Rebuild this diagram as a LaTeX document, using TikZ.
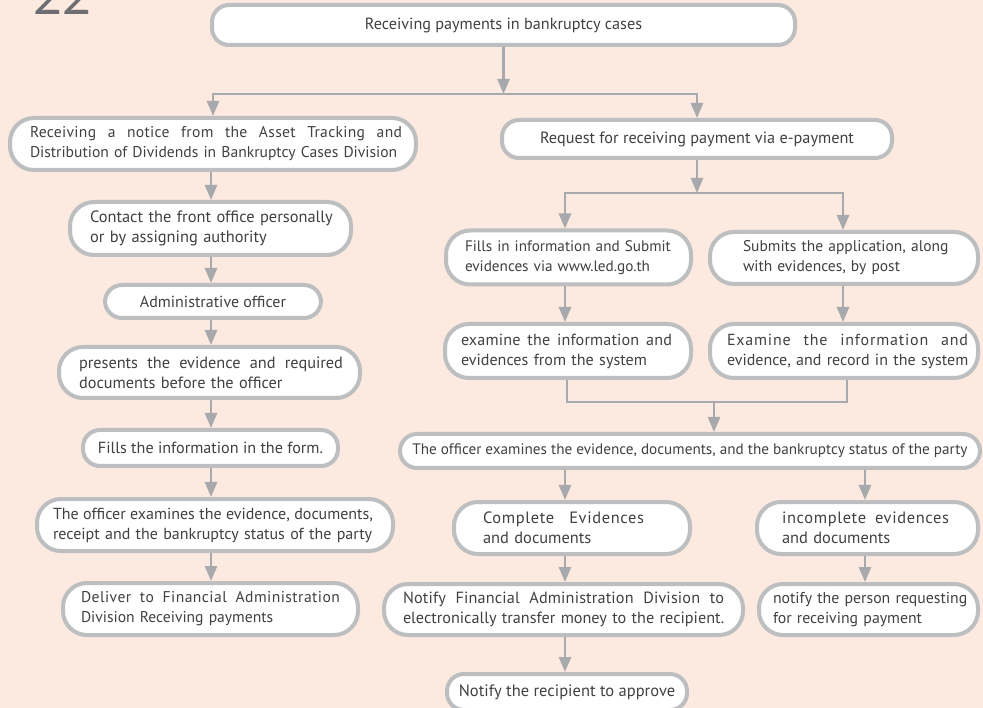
\documentclass[tikz,border=0pt]{standalone}
\usepackage{fontspec}
\setmainfont{PT Sans}
\newfontfamily\pgfont{Lato}
\usetikzlibrary{arrows.meta}
\definecolor{bgc}{HTML}{FCE9E0}
\definecolor{bordc}{HTML}{BCBEC0}
\definecolor{arrc}{HTML}{A7A9AC}
\definecolor{txtc}{HTML}{414042}
\definecolor{numc}{HTML}{6D6E71}
\newcommand\sline[3][0]{\makebox[#2pt][s]{\spaceskip=0pt\xspaceskip=0pt\addfontfeature{LetterSpace=#1}#3}}
\begin{document}
\begin{tikzpicture}[x=1pt,y=-1pt,
  fs/.style={font=\fontsize{#1}{20}\selectfont},
  box/.style={draw=bordc, line width=4pt, fill=white, inner sep=0pt,
    text=txtc, fs=16, rounded corners=24pt},
  pill/.style={box, rounded corners=17pt},
  para/.style={align=left, text width=#1pt},
  arr/.style={draw=arrc, line width=2.6pt, -{Triangle[length=15pt,width=12pt]}},
  ln/.style={draw=arrc, line width=2.2pt}]
\useasboundingbox (0,0) rectangle (983,708);
\fill[bgc] (0,0) rectangle (983,708);
\node[anchor=base west, font=\pgfont\fontsize{50}{50}\selectfont, text=numc] (pg) at (30,15) {22};
% top
\node[pill, fs=16.2, minimum width=583pt, minimum height=40pt] (top) at (503.5,25) {Receiving payments in bankruptcy cases};
% left column
\node[box, fs=15.6, minimum width=406pt, minimum height=52pt, para=366] (L1) at (213,144)
  {\sline[2]{372}{Receiving a notice from the Asset Tracking and}\\\mbox{Distribution of Dividends in Bankruptcy Cases Division}};
\node[box, fs=16.4, minimum width=281pt, minimum height=53pt, para=241] (L2) at (210.5,228.5)
  {\mbox{Contact the front office personally}\\\mbox{or by assigning authority}};
\node[pill, minimum width=216pt, minimum height=33pt] (L3) at (213,301.5) {Administrative officer};
\node[box, fs=16.3, minimum width=301pt, minimum height=51pt, para=261] (L4) at (209.5,372.5)
  {\sline{264}{presents the evidence and required}\\\mbox{documents before the officer}};
\node[pill, fs=16.15, minimum width=255pt, minimum height=36pt] (L5) at (210.5,448) {Fills the information in the form.};
\node[box, minimum width=356pt, minimum height=52pt, para=324] (L6) at (215,525)
  {\sline{320}{The officer examines the evidence, documents,}\\\mbox{receipt and the bankruptcy status of the party}};
\node[box, fs=15.6, minimum width=295pt, minimum height=52pt, para=259] (L7) at (210.5,609)
  {\sline[3]{259}{Deliver to Financial Administration}\\\mbox{Division Receiving payments}};
% right column
\node[pill, fs=16.25, minimum width=390pt, minimum height=38pt] (R1) at (697,139) {Request for receiving payment via e-payment};
\node[box, fs=15.2, minimum width=245pt, minimum height=54pt, para=207] (R2a) at (568.5,257.5)
  {\mbox{Fills in information and Submit}\\\mbox{evidences via www.led.go.th}};
\node[box, fs=15.5, minimum width=268pt, minimum height=52pt, para=202] (R2b) at (844,258)
  {\mbox{Submits the application, along}\\\mbox{with evidences, by post}};
\node[box, fs=16.1, minimum width=246pt, minimum height=54pt, para=214] (R3a) at (568,351)
  {\sline[1]{211}{examine the information and}\\\mbox{evidences from the system}};
\node[box, minimum width=268pt, minimum height=54pt, para=234] (R3b) at (844,351)
  {\sline[5]{241}{Examine the information and}\\\mbox{evidence, and record in the system}};
\node[pill, fs=15.2, minimum width=580pt, minimum height=34pt] (R4) at (690,451)
  {The officer examines the evidence, documents, and the bankruptcy status of the party};
\node[box, fs=16.4, minimum width=236pt, minimum height=52pt, para=178] (R5a) at (572,528)
  {\sline[4]{161}{Complete Evidences}\\\mbox{and documents}};
\node[box, fs=16.4, minimum width=221pt, minimum height=52pt, para=171] (R5b) at (867.5,528)
  {\sline[4]{167}{incomplete evidences}\\\mbox{and documents}};
\node[box, fs=16.2, minimum width=359pt, minimum height=51pt, para=321] (R6a) at (563.5,609.5)
  {\sline[1]{321}{Notify Financial Administration Division to}\\\mbox{electronically transfer money to the recipient.}};
\node[box, fs=15.8, minimum width=219pt, minimum height=51pt, para=191] (R6b) at (868.5,609.5)
  {\mbox{notify the person requesting}\\\mbox{for receiving payment}};
\node[pill, fs=16.5, minimum width=240pt, minimum height=36pt] (R7) at (567,692) {Notify the recipient to approve};
% helper coordinates
\coordinate (s1) at (503.5,94);
\coordinate (s2) at (697,193);
\coordinate (m) at (714,402);
\coordinate (lc) at (211,0);
\coordinate (ca) at (565,0);
\coordinate (cb) at (843,0);
\coordinate (c567) at (567,0);
\coordinate (c847) at (847,0);
\coordinate (c865) at (865,0);
% connectors
\draw[arr] (top.south -| s1) -- (s1);
\draw[arr] (s1) -| (L1.north);
\draw[arr] (s1) -| (R1.north);
\draw[arr] (L1.south -| lc) -- (L2.north -| lc);
\draw[arr] (L2.south -| lc) -- (L3.north -| lc);
\draw[arr] (L3.south -| lc) -- (L4.north -| lc);
\draw[arr] (L4.south -| lc) -- (L5.north -| lc);
\draw[arr] (L5.south -| lc) -- (L6.north -| lc);
\draw[arr] (L6.south -| lc) -- (L7.north -| lc);
\draw[arr] (R1.south -| s2) -- (s2);
\draw[arr] (s2) -| (R2a.north -| ca);
\draw[arr] (s2) -| (R2b.north -| cb);
\draw[arr] (R2a.south -| ca) -- (R3a.north -| ca);
\draw[arr] (R2b.south -| cb) -- (R3b.north -| cb);
\draw[ln] (R3a.south -| c567) |- (m) -| (R3b.south -| c847);
\draw[arr] (m) -- (R4.north -| m);
\draw[arr] (R4.south -| ca) -- (R5a.north -| ca);
\draw[arr] (R4.south -| c865) -- (R5b.north -| c865);
\draw[arr] (R5a.south -| ca) -- (R6a.north -| ca);
\draw[arr] (R5b.south -| c865) -- (R6b.north -| c865);
\draw[arr] (R6a.south -| ca) -- (R7.north -| ca);
\end{tikzpicture}
\end{document}
